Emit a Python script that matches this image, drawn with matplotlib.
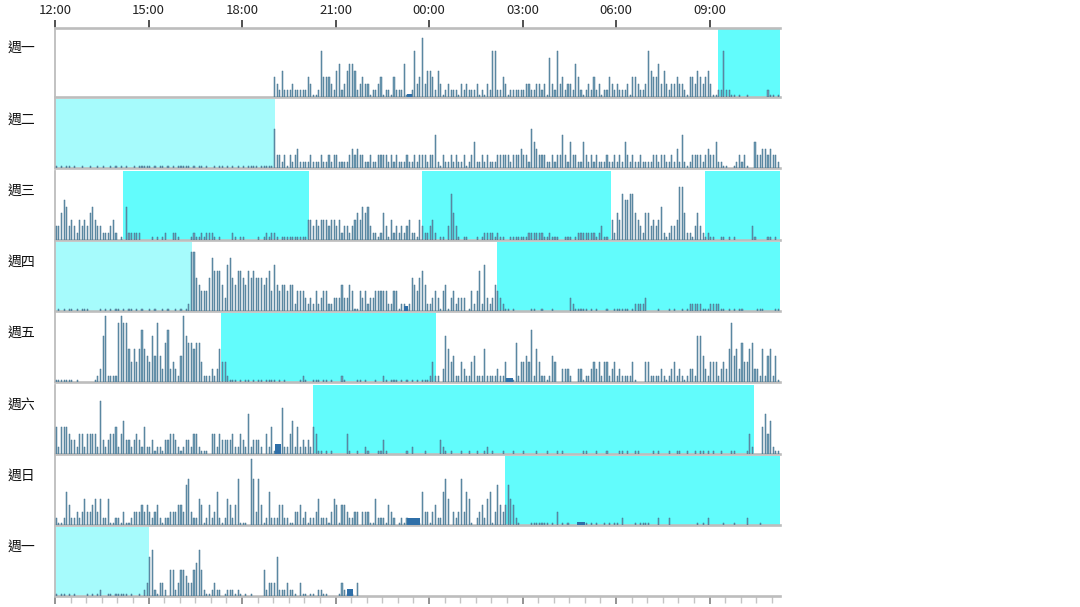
import matplotlib
matplotlib.use("Agg")
import matplotlib.pyplot as plt
from matplotlib.ticker import MultipleLocator, FixedLocator

plt.rcParams['font.family'] = ['Noto Sans CJK TC', 'DejaVu Sans']

# ---------------- data ----------------
day_labels = ["週一", "週二", "週三", "週四", "週五", "週六", "週日", "週一"]
hour_tick_labels = ["12:00", "15:00", "18:00", "21:00", "00:00", "03:00", "06:00", "09:00"]
axis_start, axis_end = "12:00", "11:15"

# activity per 5-minute bin, one string per hour starting at 12:00
# '-' = no bar, '0' = tiny bar, '1'..'9' = height, 'a' = 10
act_mon1 = ["------------", "------------", "------------", "------------", "------------", "------------",
            "------------", "321411121111", "132001733321", "451245541232", "201123011031", "115001723924",
            "431420121110", "212111201021", "771132011111", "122112212062", "172312215310", "121312011321",
            "211120332112", "743352421223", "221033243234", "2001171100-0", "--0-------10", "0-0"]
act_tue = ["0-0-00-0--0-", "-0--0-0--0-0", "-0-0--0-0000", "0-0-00-0-0-0", "0000-0-00-0-", "-0-00-0-0-0-",
           "0-0000-00000", "622120212311", "112111211212", "211112323221", "121122221212", "111211212221",
           "225102112121", "120124112121", "112222212223", "221643222112", "122521422114", "212121112112",
           "121421211211", "112212211213", "151012222123", "2241100--012", "120--4223323", "221"]
act_wed = ["224652321323", "245322111231", "-0-511111---", "-0-0-01--110", "----01001011", "10-0----10-0",
           "0-----0-0101", "10-000000000", "033232333233", "231221234354", "521101420312", "121231103211",
           "231-00-27420", "-00---0-0111", "10100--00000", "001111110010", "00--000-0111", "111101200-31",
           "437667743214", "423235101223", "884110242101", "00--00-0-0--", "----20----00", "-0-"]
act_thu = ["-0-0-00-0-00", "0----0-0-0-0", "0-0-00-0-0--", "0-0--0-0--0-", "0-0199543335", "866642785466",
           "546565554563", "743443441333", "212131233112", "224224300323", "122333331133", "011015435641",
           "123203402312", "22-031361721", "2432100-0---", "---00--0---0", "------210000", "0-0-0---0--0",
           "00000-011112", "----0---0-0-", "-0-011111000", "111100-0-0-0", "0-----000---", "-00"]
act_fri = ["0000000-0---", "---0127a1111", "9a9953535854", "374942682321", "4a7665663111", "2125331000-0",
           "-00-0-00-000", "0-0-0-----01", "0--000-00-0-", "--10----00-0", "---0--10-000", "-0-0-0-0-000",
           "1311-2753411", "321134111511", "112113000613", "343815311014", "3--2221--220", "112323133123",
           "12111130---3", "311112101231", "210122177421", "333123259452", "633562215145", "140"]
act_sat = ["414443221331", "333318212334", "135221232141", "120110223321", "01221331000-", "331322223113",
           "21612221-314", "000711351412", "1214300-0-0-", "----30--0--1", "0---0020----", "---0-1----0-",
           "----210-0---", "0--0--0--01-", "0---0---0---", "0----0---0--", "-0-0-------0", "0---0---0---",
           "-00-0--00---", "--0-0---0--0", "0--0--0-00-0", "-0--0---00--", "--031---4635", "100"]
act_sun = ["100153112124", "223424114001", "102001222323", "212310112223", "326721143013", "125101431370",
           "00-a72730151", "113311002231", "201124111024", "303321122-22", "20041110321-", "010100000522",
           "02311574-212", "72540-123145", "02632364310-", "---0000000-0", "-2-0-0---000", "0-0-0--0-0-0",
           "0-1----0-000", "0---1---1---", "-------0-0-1", "-----0---0--", "--1----0----", "---"]
act_mon2 = ["0-00-0-0----", "0-0-01--00-0", "0000-0--0-12", "6710221-4412", "443224574100", "1211-0111010",
            "-0-0----4122", "261112110-20", "0-00-1100---", "-021000-2---"]
activity = [act_mon1, act_tue, act_wed, act_thu, act_fri, act_sat, act_sun, act_mon2]

# sleep spans per row: (start, end, kind); 'carry' = continued from the day before
sleep_spans = [
    [("09:16", "11:15", "sleep")],
    [("12:00", "19:04", "carry")],
    [("14:11", "20:09", "sleep"), ("23:46", "05:50", "sleep"), ("08:51", "11:15", "sleep")],
    [("12:00", "16:24", "carry"), ("02:11", "11:15", "sleep")],
    [("17:20", "00:13", "sleep")],
    [("20:17", "10:26", "sleep")],
    [("02:26", "11:15", "sleep")],
    [("12:00", "15:00", "carry")],
]

# dark blocks: (row, start, end, height)
blocks = [(0, "23:17", "23:27", 0.4), (3, "23:12", "23:20", 0.7), (4, "02:29", "02:42", 0.6),
          (5, "19:04", "19:15", 1.4), (6, "23:17", "23:43", 1.1), (6, "04:45", "05:00", 0.4),
          (7, "21:23", "21:34", 1.1)]

# ---------------- helpers ----------------
def hrs(s, is_end=False):
    h, m = map(int, s.split(":"))
    t = (h - 12) % 24 + m / 60.0
    if is_end and t == 0:
        t = 24.0
    return t

def parse(chunks):
    s = "".join((c + "-" * 12)[:12] for c in chunks)
    xs, hs = [], []
    for i, ch in enumerate(s):
        if ch == "-":
            continue
        v = 0.35 if ch == "0" else (10.0 if ch == "a" else float(ch))
        xs.append((i + 0.5) / 12.0)
        hs.append(v)
    return xs, hs

# ---------------- figure ----------------
W, H = 1080, 607
fig = plt.figure(figsize=(W / 100, H / 100), dpi=100)
fig.patch.set_facecolor("white")

X0, X1 = 55, 779.7
TOP0, ROW_H, PITCH = 28, 69, 71.3
xmin, xmax = hrs(axis_start), hrs(axis_end, True)

span_colors = {"sleep": "#62fcfc", "carry": "#a6fbfc"}
grey = "#bdbdbd"

for r in range(8):
    top = TOP0 + PITCH * r
    ax = fig.add_axes([X0 / W, 1 - (top + ROW_H) / H, (X1 - X0) / W, ROW_H / H])
    ax.set_xlim(xmin, xmax)
    ax.set_ylim(0, 10.5)
    for (s, e, kind) in sleep_spans[r]:
        a, b = hrs(s), hrs(e, True)
        ax.axvspan(a, b, color=span_colors[kind], lw=0, zorder=0)
    xs, hs = parse(activity[r])
    ax.bar(xs, hs, width=0.42 / 12, align="center", color="#6f9bb3",
           edgecolor="#44738e", linewidth=0.35, zorder=3)
    for (br, s, e, h) in blocks:
        if br == r:
            a, b = hrs(s), hrs(e)
            ax.bar([(a + b) / 2], [h], width=(b - a), color="#2f6fa8", lw=0, zorder=4)

    ax.set_yticks([])
    ax.spines["right"].set_visible(False)
    ax.spines["left"].set_color(grey)
    ax.spines["left"].set_linewidth(1.3)
    ax.spines["bottom"].set_color(grey)
    ax.spines["bottom"].set_linewidth(1.9)
    if r == 0:
        ax.spines["top"].set_color(grey)
        ax.spines["top"].set_linewidth(1.9)
        ax.xaxis.tick_top()
        ax.xaxis.set_major_locator(FixedLocator([3 * k for k in range(8)]))
        ax.set_xticklabels(hour_tick_labels)
        ax.tick_params(axis="x", which="major", top=True, bottom=False, labeltop=True,
                       labelbottom=False, length=6, width=1.2, color="#333333",
                       pad=2, labelsize=9.5, labelcolor="#222222")
    else:
        ax.spines["top"].set_visible(False)
        if r == 7:
            ax.xaxis.set_major_locator(MultipleLocator(3))
            ax.xaxis.set_minor_locator(MultipleLocator(0.5))
            ax.tick_params(axis="x", which="major", length=6, width=1.1, color="#777777",
                           labelbottom=False)
            ax.tick_params(axis="x", which="minor", length=5, width=1.0, color="#c4c4c4")
        else:
            ax.set_xticks([])
    fig.text(8 / W, 1 - (top + 20) / H, day_labels[r], fontsize=10, va="center", ha="left",
             color="#111111", fontweight="medium")

fig.savefig("out.png", dpi=100, facecolor="white")
